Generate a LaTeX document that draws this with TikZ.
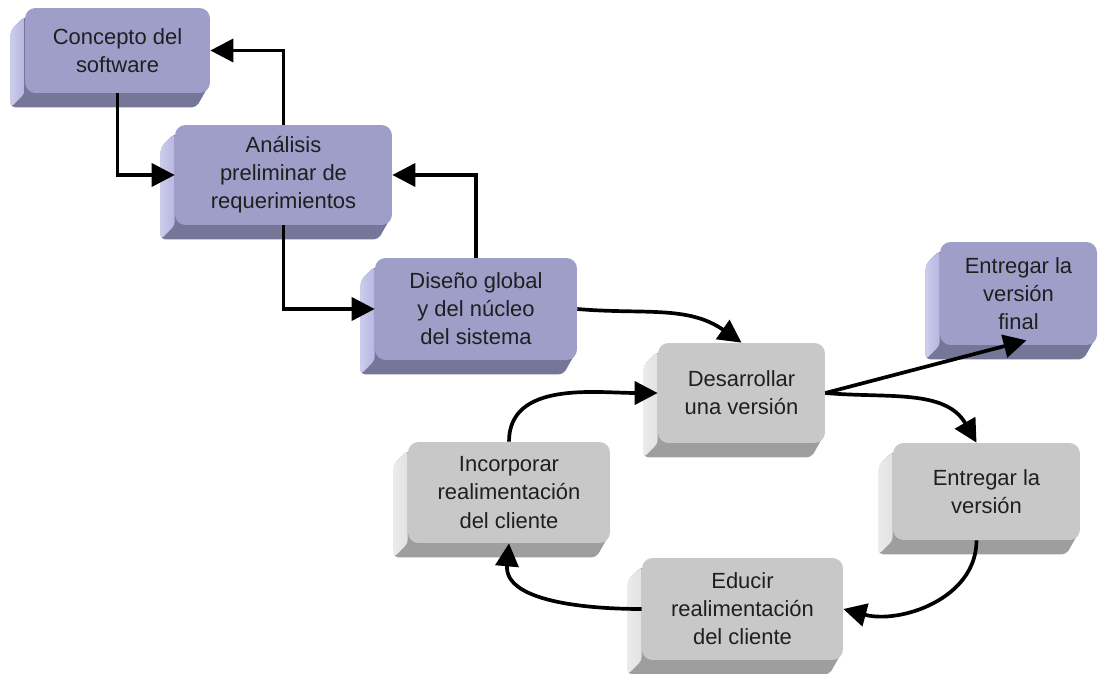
\documentclass[tikz,border=0pt]{standalone}
\usepackage{fontspec}
\setmainfont{Liberation Sans}
\usetikzlibrary{arrows.meta,backgrounds,calc}
\definecolor{lila}{RGB}{158,158,200}
\definecolor{lila-left}{RGB}{182,182,226}
\definecolor{lila-bottom}{RGB}{118,118,152}
\definecolor{gris}{RGB}{200,200,200}
\definecolor{gris-left}{RGB}{226,226,226}
\definecolor{gris-bottom}{RGB}{158,158,158}

\begin{document}
\begin{tikzpicture}[x=0.02cm, y=0.02cm,
    box/.style={rectangle, rounded corners=6pt, inner sep=2pt, align=center,
               text=black!88, font=\fontsize{12.5}{16}\selectfont},
    lilabox/.style={box, fill=lila},
    grisbox/.style={box, fill=gris},
    arr/.style={-{Triangle[length=0.46cm,width=0.46cm]}, line width=2.1pt}
]
    \useasboundingbox (0,0) rectangle (1098,673);

    % Fases iniciales (lila)
    \node[lilabox, minimum width=3.7cm,  minimum height=1.7cm]  (con) at (117.5,622.5) {Concepto del\\software};
    \node[lilabox, minimum width=4.34cm, minimum height=2cm]    (ana) at (283.5,498)   {Análisis\\preliminar de\\requerimientos};
    \node[lilabox, minimum width=4.04cm, minimum height=2.04cm] (dis) at (476,364)     {Diseño global\\y del núcleo\\del sistema};
    \node[lilabox, minimum width=3.14cm, minimum height=2.06cm] (fin) at (1018.5,379.5) {Entregar la\\versión\\final};

    % Ciclo de versiones (gris)
    \node[grisbox, minimum width=3.34cm, minimum height=2cm]    (des) at (741.5,280)   {Desarrollar\\una versión};
    \node[grisbox, minimum width=3.74cm, minimum height=1.94cm] (ent) at (986.5,181.5) {Entregar la\\versión};
    \node[grisbox, minimum width=4.02cm, minimum height=2.04cm] (edu) at (742.5,64)    {Educir\\realimentación\\del cliente};
    \node[grisbox, minimum width=4.04cm, minimum height=2.02cm] (inc) at (509,180.5)   {Incorporar\\realimentación\\del cliente};

    % relieve de las cajas
    \begin{scope}[on background layer]
        \foreach \n/\c in {con/lila,ana/lila,dis/lila,fin/lila,des/gris,ent/gris,edu/gris,inc/gris}{
            \fill[\c-bottom, rounded corners=2.5pt] ([yshift=-5pt]\n.north west) -- ++(-14,-14)
                -- ([shift={(-14,-14)}]\n.south west) -- ([shift={(-14,-14)}]\n.south east)
                -- ([yshift=6pt]\n.south east) -- (\n.center) -- cycle;
            \shade[left color=\c-left!70!white, right color=\c-left, rounded corners=2pt]
                ([yshift=-5pt]\n.north west) -- ++(-14,-14)
                -- ([shift={(-14,-14)}]\n.south west) -- (\n.south west) -- cycle;
        }
    \end{scope}

    % cascada
    \draw[arr] (con.south) |- (ana.west);
    \draw[arr] (ana.north) |- (con.east);
    \draw[arr] (ana.south) |- (dis.west);
    \draw[arr] (dis.north) |- (ana.east);
    \draw[arr] (dis.east) to[out=-5,in=145] (des.north);

    % ciclo
    \draw[arr] (des.east) -- ([xshift=0.16cm,yshift=0.1cm]fin.south);
    \draw[arr] (des.east) to[out=-5,in=120] ([xshift=-0.2cm]ent.north);
    \draw[arr] ([xshift=-0.2cm]ent.south) to[out=-90,in=-15] (edu.east);
    \draw[arr] (edu.west) to[out=180,in=-95] (inc.south);
    \draw[arr] (inc.north) to[out=90,in=180] (des.west);
\end{tikzpicture}
\end{document}
